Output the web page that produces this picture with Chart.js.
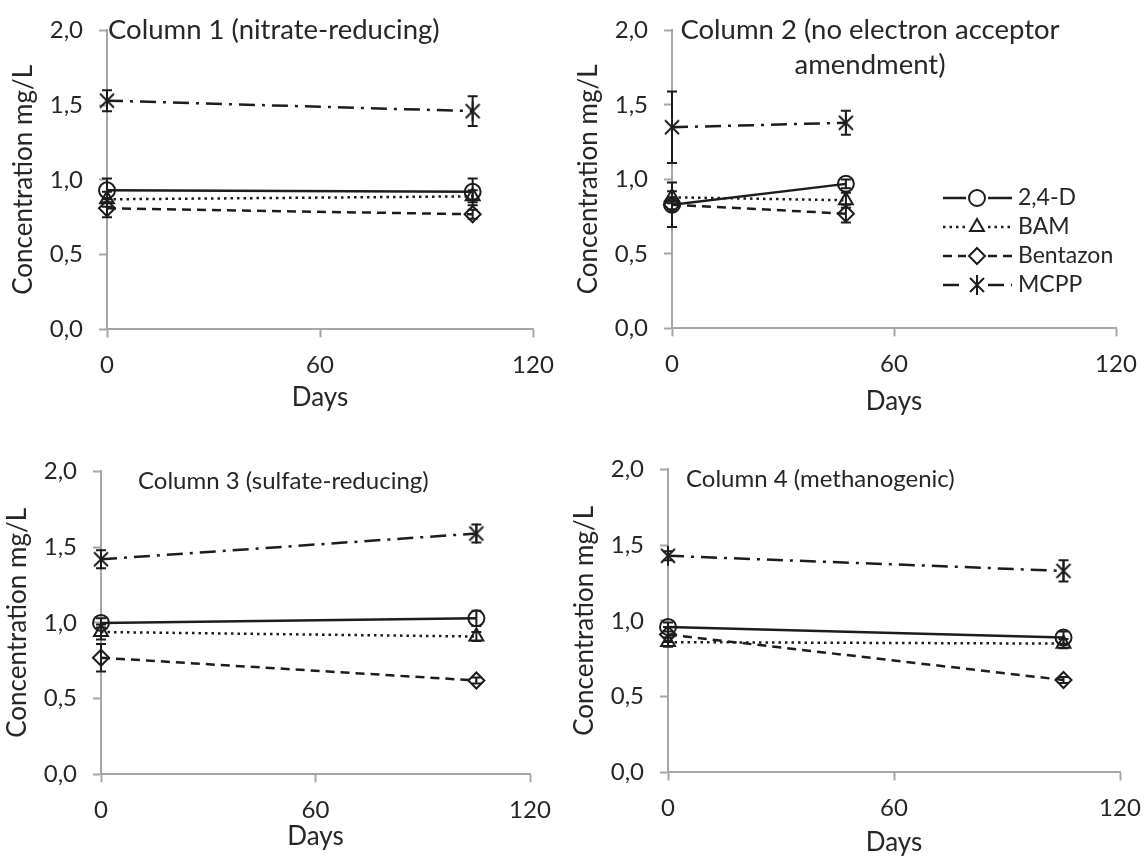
<!DOCTYPE html>
<html>
<head>
<meta charset="utf-8">
<script src="https://cdn.jsdelivr.net/npm/chart.js@4.4.1/dist/chart.umd.min.js"></script>
<style>
    body { margin: 0; background: #fff; width: 1147px; height: 861px; overflow: hidden; position: relative; }
    canvas { position: absolute; }
</style>
</head>
<body>
<canvas id="c1"></canvas>
<canvas id="c2"></canvas>
<canvas id="c3"></canvas>
<canvas id="c4"></canvas>
<script>

// =========================================
// Data
// =========================================

const seriesNames = ["2,4-D", "BAM", "Bentazon", "MCPP"];

const yTicks = [0, 0.5, 1.0, 1.5, 2.0];
const xTicks = [0, 60, 120];

// Column 1 (nitrate-reducing)
const c1Days = [0, 103];
const c1D24 = [0.93, 0.92];
const c1BAM = [0.87, 0.89];
const c1Bent = [0.81, 0.77];
const c1MCPP = [1.53, 1.46];
const c1D24Err = [0.08, 0.09];
const c1BAMErr = [0.05, 0.04];
const c1BentErr = [0.06, 0.03];
const c1MCPPErr = [0.07, 0.10];

// Column 2 (no electron acceptor amendment)
const c2Days = [0, 47];
const c2D24 = [0.83, 0.97];
const c2BAM = [0.88, 0.86];
const c2Bent = [0.83, 0.77];
const c2MCPP = [1.35, 1.38];
const c2D24Err = [0.15, 0.03];
const c2BAMErr = [0.04, 0.05];
const c2BentErr = [0.03, 0.06];
const c2MCPPErr = [0.24, 0.08];

// Column 3 (sulfate-reducing)
const c3Days = [0, 105];
const c3D24 = [1.00, 1.03];
const c3BAM = [0.94, 0.91];
const c3Bent = [0.77, 0.62];
const c3MCPP = [1.42, 1.59];
const c3D24Err = [0.03, 0.05];
const c3BAMErr = [0.05, 0.03];
const c3BentErr = [0.09, 0.02];
const c3MCPPErr = [0.06, 0.06];

// Column 4 (methanogenic)
const c4Days = [0, 105];
const c4D24 = [0.96, 0.89];
const c4BAM = [0.86, 0.85];
const c4Bent = [0.91, 0.61];
const c4MCPP = [1.43, 1.33];
const c4D24Err = [0.03, 0.04];
const c4BAMErr = [0.03, 0.03];
const c4BentErr = [0.05, 0.02];
const c4MCPPErr = [0.03, 0.07];


// =========================================
// Style
// =========================================

const ink = "#1c1c1c";
const textColor = "#262626";
const axisGrey = "#a6a6a6";
const fontFamily = "Lato, 'Open Sans', sans-serif";

function mcppMarker() {

    const c = document.createElement("canvas");
    c.width = 20;
    c.height = 22;

    const g = c.getContext("2d");
    g.strokeStyle = ink;
    g.lineWidth = 2;
    g.beginPath();
    g.moveTo(3, 4); g.lineTo(17, 18);
    g.moveTo(17, 4); g.lineTo(3, 18);
    g.moveTo(10, 1); g.lineTo(10, 21);
    g.stroke();

    return c;

}

const seriesStyle = [
    { dash: [], point: "circle", r: 8 },
    { dash: [2.5, 4], point: "triangle", r: 8 },
    { dash: [9, 6], point: "rectRot", r: 8 },
    { dash: [16, 7, 3, 7], point: mcppMarker(), r: 10 }
];


// =========================================
// Plugins
// =========================================

const errorBars = {

    id: "errorBars",

    afterDatasetsDraw(chart) {

        const ctx = chart.ctx;
        const y = chart.scales.y;

        chart.data.datasets.forEach((ds, di) => {

            const meta = chart.getDatasetMeta(di);

            meta.data.forEach((pt, i) => {

                const e = ds.err[i];
                if (!e) return;

                const v = ds.data[i].y;
                const top = y.getPixelForValue(v + e);
                const bot = y.getPixelForValue(v - e);

                ctx.save();
                ctx.strokeStyle = ink;
                ctx.lineWidth = 2;
                ctx.setLineDash([]);
                ctx.beginPath();
                ctx.moveTo(pt.x, top); ctx.lineTo(pt.x, bot);
                ctx.moveTo(pt.x - 5, top); ctx.lineTo(pt.x + 5, top);
                ctx.moveTo(pt.x - 5, bot); ctx.lineTo(pt.x + 5, bot);
                ctx.stroke();
                ctx.restore();

            });

        });

    }

};

const panelText = {

    id: "panelText",

    afterDraw(chart, args, opts) {

        const ctx = chart.ctx;

        ctx.save();
        ctx.font = opts.size + "px " + fontFamily;
        ctx.fillStyle = textColor;
        ctx.textBaseline = "middle";
        ctx.textAlign = opts.align;

        opts.lines.forEach((t, i) => {
            ctx.fillText(t, opts.x, opts.y + i * opts.lh);
        });

        ctx.restore();

    }

};

const sideLegend = {

    id: "sideLegend",

    afterDraw(chart, args, opts) {

        if (!opts.show) return;

        const ctx = chart.ctx;

        chart.data.datasets.forEach((ds, i) => {

            const y = opts.y + i * opts.row;
            const gap = 11;

            ctx.save();
            ctx.strokeStyle = ink;
            ctx.lineWidth = 2.5;
            ctx.setLineDash(ds.borderDash);
            ctx.beginPath();
            ctx.moveTo(opts.x1, y); ctx.lineTo(opts.xm - gap, y);
            ctx.moveTo(opts.xm + gap, y); ctx.lineTo(opts.x2, y);
            ctx.stroke();
            ctx.restore();

            ctx.save();
            ctx.strokeStyle = ink;
            ctx.fillStyle = "rgba(0,0,0,0)";
            ctx.lineWidth = 2;
            ctx.setLineDash([]);
            Chart.helpers.drawPoint(ctx, {
                pointStyle: ds.pointStyle,
                radius: ds.pointRadius,
                borderWidth: 2,
                rotation: 0
            }, opts.xm, y);
            ctx.restore();

            ctx.save();
            ctx.font = "23px " + fontFamily;
            ctx.fillStyle = textColor;
            ctx.textBaseline = "middle";
            ctx.textAlign = "left";
            ctx.fillText(ds.label, opts.xt, y);
            ctx.restore();

        });

    }

};


// =========================================
// Build Charts
// =========================================

function makeSets(days, values, errors) {

    return values.map((ys, s) => ({

        label: seriesNames[s],
        data: days.map((d, i) => ({ x: d, y: ys[i] })),
        err: errors[s],
        borderColor: ink,
        borderWidth: 2.5,
        borderDash: seriesStyle[s].dash,
        borderCapStyle: "butt",
        pointStyle: seriesStyle[s].point,
        pointRadius: seriesStyle[s].r,
        pointBorderWidth: 2,
        pointBorderColor: ink,
        pointBackgroundColor: "rgba(0,0,0,0)",
        showLine: true,
        clip: false

    }));

}

function fmtComma(v) {

    return v.toFixed(1).replace(".", ",");

}

function createPanel(p) {

    const padTop = 18;
    const yw = 105;
    const padRight = 40;
    const titleSize = 26;
    const xh = p.daysY - p.B + titleSize * 0.6 + 6;

    const canvas = document.getElementById(p.id);
    const left = p.L - yw;
    const top = p.T - padTop;

    canvas.width = yw + (p.R - p.L) + padRight;
    canvas.height = padTop + (p.B - p.T) + xh;
    canvas.style.left = left + "px";
    canvas.style.top = top + "px";

    const tickFont = { family: fontFamily, size: 24 };
    const titleFont = { family: fontFamily, size: titleSize };

    return new Chart(canvas, {

        type: "scatter",

        data: {
            datasets: makeSets(p.days, p.values, p.errors)
        },

        options: {

            responsive: false,
            animation: false,
            devicePixelRatio: 1,

            layout: {
                padding: { top: padTop, right: padRight, left: 0, bottom: 0 }
            },

            plugins: {
                legend: { display: false },
                tooltip: { enabled: false },
                panelText: {
                    lines: p.title,
                    x: p.titleX - left,
                    y: p.titleY - top,
                    size: p.titleSize,
                    lh: 35,
                    align: p.titleAlign
                },
                sideLegend: {
                    show: !!p.legend,
                    x1: 943 - left, x2: 1012 - left, xm: 977 - left, xt: 1018 - left,
                    y: 198 - top, row: 29
                }
            },

            scales: {

                x: {
                    type: "linear",
                    min: 0,
                    max: 120,
                    afterBuildTicks: axis => { axis.ticks = xTicks.map(v => ({ value: v })); },
                    afterFit: axis => { axis.height = xh; },
                    border: { color: axisGrey, width: 2 },
                    grid: { drawOnChartArea: false, tickLength: 8, tickColor: axisGrey, tickWidth: 2 },
                    ticks: { font: tickFont, color: textColor, padding: 13, maxRotation: 0 },
                    title: { display: true, text: "Days", font: titleFont, color: textColor, padding: { top: 0, bottom: 6 } }
                },

                y: {
                    type: "linear",
                    min: 0,
                    max: 2,
                    afterBuildTicks: axis => { axis.ticks = yTicks.map(v => ({ value: v })); },
                    afterFit: axis => { axis.width = yw; },
                    border: { color: axisGrey, width: 2 },
                    grid: { drawOnChartArea: false, tickLength: 8, tickColor: axisGrey, tickWidth: 2 },
                    ticks: { font: tickFont, color: textColor, padding: 16, callback: v => fmtComma(v) },
                    title: { display: true, text: "Concentration mg/L", font: titleFont, color: textColor, padding: { top: 6, bottom: 0 } }
                }

            }

        },

        plugins: [errorBars, panelText, sideLegend]

    });

}

const panels = [
    {
        id: "c1", L: 107, T: 18, R: 533, B: 330, daysY: 398,
        days: c1Days,
        values: [c1D24, c1BAM, c1Bent, c1MCPP],
        errors: [c1D24Err, c1BAMErr, c1BentErr, c1MCPPErr],
        title: ["Column 1 (nitrate-reducing)"], titleX: 108, titleY: 30, titleSize: 27.5, titleAlign: "left"
    },
    {
        id: "c2", L: 672, T: 18, R: 1116, B: 329, daysY: 402,
        days: c2Days,
        values: [c2D24, c2BAM, c2Bent, c2MCPP],
        errors: [c2D24Err, c2BAMErr, c2BentErr, c2MCPPErr],
        title: ["Column 2 (no electron acceptor", "amendment)"], titleX: 870, titleY: 30, titleSize: 27.5, titleAlign: "center",
        legend: true
    },
    {
        id: "c3", L: 101, T: 459, R: 530, B: 775, daysY: 837,
        days: c3Days,
        values: [c3D24, c3BAM, c3Bent, c3MCPP],
        errors: [c3D24Err, c3BAMErr, c3BentErr, c3MCPPErr],
        title: ["Column 3 (sulfate-reducing)"], titleX: 138, titleY: 481, titleSize: 24, titleAlign: "left"
    },
    {
        id: "c4", L: 668, T: 457, R: 1120, B: 773, daysY: 843,
        days: c4Days,
        values: [c4D24, c4BAM, c4Bent, c4MCPP],
        errors: [c4D24Err, c4BAMErr, c4BentErr, c4MCPPErr],
        title: ["Column 4 (methanogenic)"], titleX: 686, titleY: 479, titleSize: 24, titleAlign: "left"
    }
];

panels.forEach(createPanel);

</script>
</body>
</html>
